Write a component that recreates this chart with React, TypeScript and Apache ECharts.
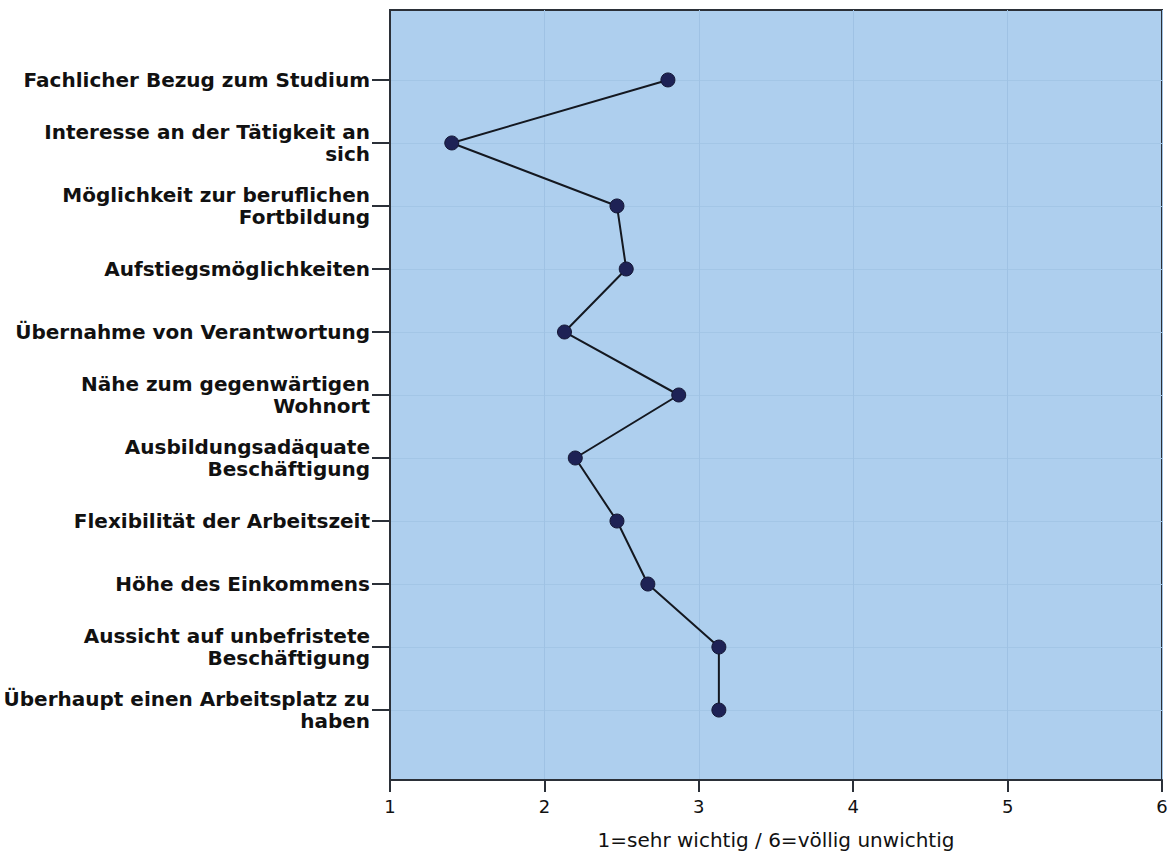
import React, { useEffect, useRef } from "react";
import * as echarts from "echarts";

const categories: string[] = [
  "Fachlicher Bezug zum Studium",
  "Interesse an der Tätigkeit an\nsich",
  "Möglichkeit zur beruflichen\nFortbildung",
  "Aufstiegsmöglichkeiten",
  "Übernahme von Verantwortung",
  "Nähe zum gegenwärtigen\nWohnort",
  "Ausbildungsadäquate\nBeschäftigung",
  "Flexibilität der Arbeitszeit",
  "Höhe des Einkommens",
  "Aussicht auf unbefristete\nBeschäftigung",
  "Überhaupt einen Arbeitsplatz zu\nhaben",
];

const values: number[] = [2.8, 1.4, 2.47, 2.53, 2.13, 2.87, 2.2, 2.47, 2.67, 3.13, 3.13];

const xTicks: number[] = [1, 2, 3, 4, 5, 6];
const xTitle = "1=sehr wichtig / 6=völlig unwichtig";

export default function App() {
  const ref = useRef<HTMLDivElement>(null);
  useEffect(() => {
    if (!ref.current) return;
    const chart = echarts.init(ref.current, undefined, { renderer: "svg" });
    const idx = categories.map((_, i) => i);
    chart.setOption({
      animation: false,
      backgroundColor: "#ffffff",
      grid: {
        left: 390,
        right: 10,
        top: 10,
        bottom: 78,
        show: true,
        backgroundColor: "#aecfee",
        borderColor: "#2b3038",
        borderWidth: 2,
      },
      xAxis: {
        type: "value",
        min: xTicks[0],
        max: xTicks[xTicks.length - 1],
        interval: 1,
        name: xTitle,
        nameLocation: "middle",
        nameGap: 50,
        nameTextStyle: { fontFamily: "DejaVu Sans", fontSize: 20, color: "#111" },
        axisLine: { show: true, onZero: false, lineStyle: { color: "#2b3038", width: 2 } },
        axisTick: { show: true, length: 12, lineStyle: { color: "#2b3038", width: 2 } },
        axisLabel: { fontFamily: "DejaVu Sans", fontSize: 18, color: "#111", margin: 17 },
        splitLine: { show: true, lineStyle: { color: "#9fc2e4", width: 1 } },
      },
      yAxis: {
        type: "value",
        inverse: true,
        min: -1.11,
        max: 11.11,
        axisLine: { show: true, onZero: false, lineStyle: { color: "#2b3038", width: 2 } },
        axisTick: {
          show: true,
          length: 18,
          customValues: idx,
          lineStyle: { color: "#2b3038", width: 2 },
        },
        axisLabel: {
          customValues: idx,
          formatter: (v: number) => categories[Math.round(v)] ?? "",
          fontFamily: "DejaVu Sans",
          fontWeight: "bold",
          fontSize: 20,
          lineHeight: 22,
          color: "#111",
          align: "right",
          margin: 20,
        },
        splitLine: { show: true, lineStyle: { color: "#a3c6e6", width: 1 } },
      },
      series: [
        {
          type: "line",
          data: values.map((v, i) => [v, i]),
          symbol: "circle",
          symbolSize: 14,
          itemStyle: { color: "#1e2255", borderColor: "#141734", borderWidth: 1 },
          lineStyle: { color: "#141820", width: 2 },
        },
      ],
    });
    return () => chart.dispose();
  }, []);
  return (
    <div
      ref={ref}
      style={{ position: "fixed", left: 0, top: 0, width: 1172, height: 858 }}
    />
  );
}
